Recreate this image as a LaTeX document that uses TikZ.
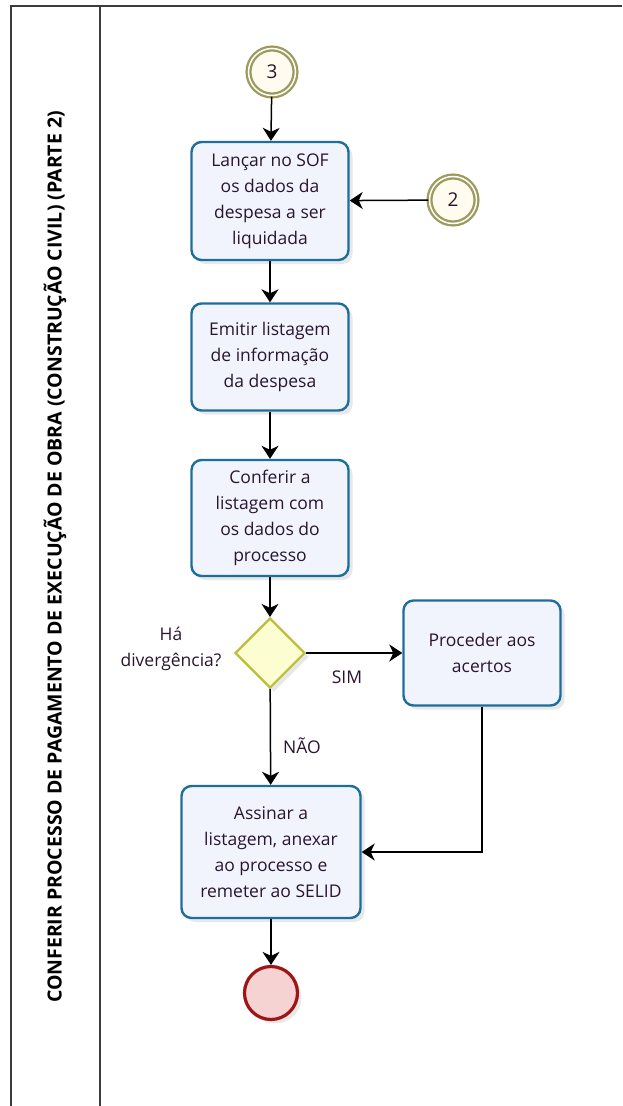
\documentclass[tikz,border=0pt]{standalone}
\usepackage{fontspec}
\setmainfont{Open Sans}
\usetikzlibrary{arrows.meta,shapes.geometric,shadows}

\definecolor{taskline}{HTML}{1E6E9C}
\definecolor{taskfill}{HTML}{F1F4FD}
\definecolor{gateline}{HTML}{BDBE3A}
\definecolor{gatefill}{HTML}{FDFDD2}
\definecolor{linkline}{HTML}{9C9A5C}
\definecolor{linkfill}{HTML}{FFFBEE}
\definecolor{endline}{HTML}{A01414}
\definecolor{endfill}{HTML}{F6D3D3}
\definecolor{textcol}{HTML}{2A1530}
\definecolor{lanecol}{HTML}{3C3C3C}

\tikzset{
	task/.style={draw=taskline, line width=2.4pt, rounded corners=10pt, fill=taskfill,
		minimum width=157pt, align=center, text=textcol,
		font=\fontsize{17.5}{26}\selectfont,
		drop shadow={shadow xshift=4pt, shadow yshift=-4pt, opacity=0.18, fill=gray}},
	gateway/.style={diamond, draw=gateline, line width=2.2pt, fill=gatefill,
		minimum width=70pt, minimum height=70pt, inner sep=0pt,
		drop shadow={shadow xshift=4pt, shadow yshift=-4pt, opacity=0.18, fill=gray}},
	linkevent/.style={circle, draw=linkline, line width=2.3pt, double=white, double distance=1.5pt,
		fill=linkfill, minimum size=47pt, inner sep=0pt, text=textcol,
		font=\fontsize{19}{20}\selectfont},
	endevent/.style={circle, draw=endline, line width=3.2pt, fill=endfill,
		minimum size=53pt, inner sep=0pt,
		drop shadow={shadow xshift=4pt, shadow yshift=-4pt, opacity=0.18, fill=gray}},
	flow/.style={-{Stealth[length=13pt,width=17pt,inset=4pt]}, line width=1.5pt, black},
	lbl/.style={text=textcol, font=\fontsize{17.5}{26}\selectfont, align=center},
}

\begin{document}
\begin{tikzpicture}[x=1pt,y=-1pt]
	\useasboundingbox (0,0) rectangle (622,1106);
	% lane
	\draw[lanecol, line width=1.8pt] (11,1106) -- (11,6) -- (622,6);
	\draw[lanecol, line width=1.8pt] (100,6) -- (100,1106);
	\node[rotate=90, font=\bfseries\fontsize{19.5}{22}\selectfont] (lane) at (55,557)
		{CONFERIR PROCESSO DE PAGAMENTO DE EXECUÇÃO DE OBRA (CONSTRUÇÃO CIVIL) (PARTE 2)};

	\node[linkevent] (link3) at (272,72) {3};
	\node[linkevent] (link2) at (453,200) {2};
	\node[task, minimum height=118pt] (lancar) at (270,201) {Lançar no SOF\\os dados da\\despesa a ser\\liquidada};
	\node[task, minimum height=107pt] (emitir) at (270,357) {Emitir listagem\\de informação\\da despesa};
	\node[task, minimum height=116pt] (conferir) at (270,518) {Conferir a\\listagem com\\os dados do\\processo};
	\node[gateway] (diverg) at (270,653) {};
	\node[task, minimum height=105pt] (acertos) at (482,653) {Proceder aos\\acertos};
	\node[task, minimum width=179pt, minimum height=132pt] (assinar) at (271,852) {Assinar a\\listagem, anexar\\ao processo e\\remeter ao SELID};
	\node[endevent] (fim) at (271,993) {};

	\node[lbl] (perg) at (171,649) {Há\\divergência?};
	\node[lbl] (sim) at (347,677) {SIM};
	\node[lbl] (nao) at (302,746) {NÃO};

	\draw[flow] (link3) -- (lancar);
	\draw[flow] (link2) -- (lancar);
	\draw[flow] (lancar) -- (emitir);
	\draw[flow] (emitir) -- (conferir);
	\draw[flow] (conferir) -- (diverg);
	\draw[flow] (diverg) -- (acertos);
	\draw[flow] (diverg) -- (assinar);
	\draw[flow] (acertos.south) |- (assinar.east);
	\draw[flow] (assinar) -- (fim);
\end{tikzpicture}
\end{document}
